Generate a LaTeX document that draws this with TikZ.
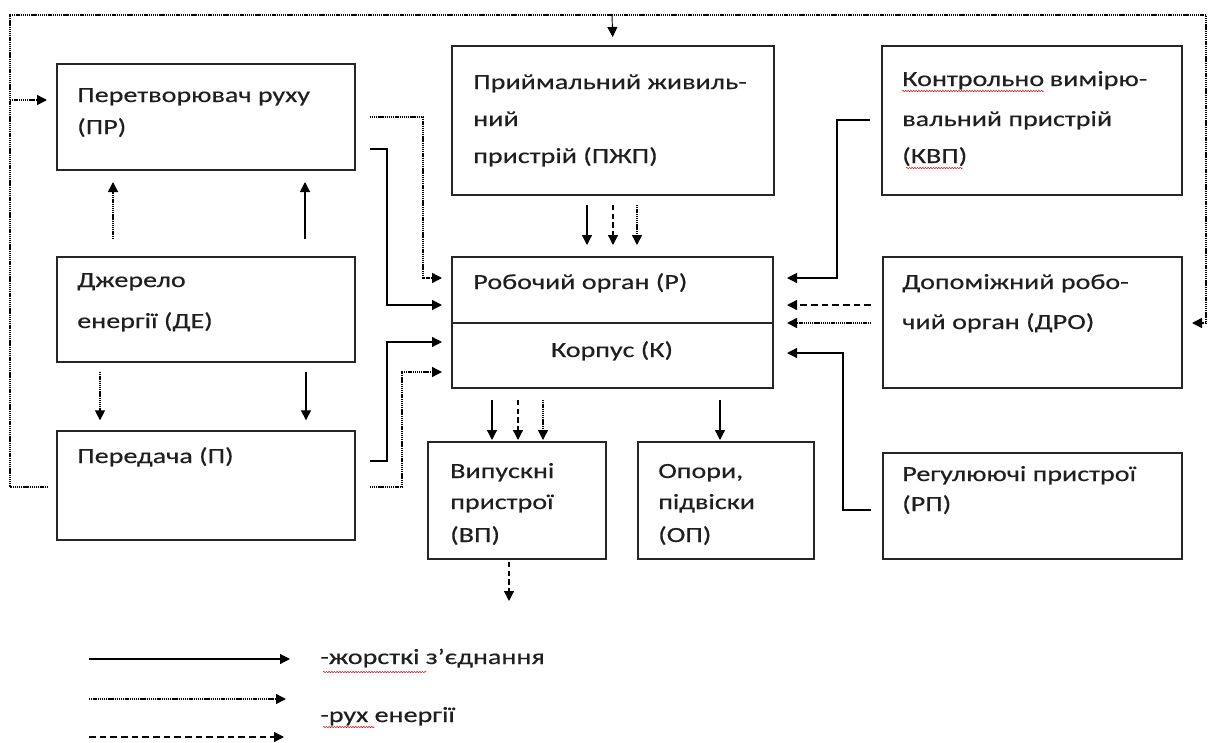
\documentclass[tikz,border=0pt]{standalone}
\usepackage{fontspec}
\setmainfont{Carlito}[FakeStretch=1.3,FakeBold=0.4]
\usetikzlibrary{arrows.meta,calc,decorations.pathmorphing}
\begin{document}
\begin{tikzpicture}[x=0.75pt,y=-0.75pt,
  box/.style={draw=black!85,line width=0.8pt,anchor=north west,inner sep=0pt,outer sep=0pt},
  txt/.style={anchor=base west,inner sep=0pt,font=\fontsize{16.2}{19}\selectfont,text=black!88},
  tip/.style={-{Triangle[length=7.5pt,width=7.5pt]}},
  sol/.style={line width=0.9pt,black,tip},
  dotl/.style={line width=1.1pt,black,dash pattern=on 1pt off 0.6pt},
  dotarr/.style={dotl,tip},
  dasharr/.style={line width=0.9pt,black,dash pattern=on 5pt off 3pt,tip},
  wavy/.style={red!80!black,line width=0.35pt,decorate,decoration={snake,amplitude=0.5pt,segment length=2pt}}
]
\useasboundingbox (0,0) rectangle (1208,743);
% boxes
\node[box,minimum width=223.5pt,minimum height=79.5pt] (pr) at (57,64) {};
\node[box,minimum width=223.5pt,minimum height=78.75pt] (de) at (57,257) {};
\node[box,minimum width=223.5pt,minimum height=81.75pt] (pp) at (57,431) {};
\node[box,minimum width=241.5pt,minimum height=111.75pt] (pzhp) at (452,46) {};
\node[box,minimum width=225pt,minimum height=111.75pt] (kvp) at (882,46) {};
\node[box,minimum width=240.75pt,minimum height=49.5pt] (r) at (452,257) {};
\node[box,minimum width=240.75pt,minimum height=48.75pt] (k) at (452,323) {};
\node[box,minimum width=224.25pt,minimum height=98.25pt] (dro) at (883,257) {};
\node[box,minimum width=133.5pt,minimum height=87.75pt] (vp) at (428,442) {};
\node[box,minimum width=132pt,minimum height=87.75pt] (op) at (638,442) {};
\node[box,minimum width=224.25pt,minimum height=79.5pt] (rp) at (883,453) {};
% texts
\node[txt] (prt1) at (77,102) {Перетворювач руху};
\node[txt] (prt2) at (77,134) {(ПР)};
\node[txt] (det1) at (77,287) {Джерело};
\node[txt] (det2) at (77,328) {енергії (ДЕ)};
\node[txt] (ppt1) at (77,463) {Передача (П)};
\node[txt] (pzt1) at (473,89) {Приймальний живиль-};
\node[txt] (pzt2) at (473,126) {ний};
\node[txt] (pzt3) at (473,163) {пристрій (ПЖП)};
\node[txt] (kvw) at (902,86) {Контрольно};
\node[txt] (kvt1) at ($(kvw.base east)+(5,0)$) {вимірю-};
\node[txt] (kvt2) at (902,126) {вальний пристрій};
\node[txt] (kvt3) at (902,163) {(КВП)};
\node[txt] (rt) at (473,289) {Робочий орган (Р)};
\node[txt,anchor=base] (kt) at (612,357) {Корпус (К)};
\node[txt] (drt1) at (902,289) {Допоміжний робо-};
\node[txt] (drt2) at (902,329) {чий орган (ДРО)};
\node[txt] (vpt1) at (450,478) {Випускні};
\node[txt] (vpt2) at (450,509) {пристрої};
\node[txt] (vpt3) at (450,542) {(ВП)};
\node[txt] (opt1) at (658,478) {Опори,};
\node[txt] (opt2) at (658,509) {підвіски};
\node[txt] (opt3) at (658,542) {(ОП)};
\node[txt] (rpt1) at (902,481) {Регулюючі пристрої};
\node[txt] (rpt2) at (902,511) {(РП)};
\node[txt] (lg1) at (320,664) {-жорсткі з’єднання};
\node[txt] (lg2) at (320,722) {-рух енергії};
% spell-check underlines
\draw[wavy] ($(kvw.base west)+(0,5)$) -- ($(kvw.base east)+(0,5)$);
\draw[wavy] ($(kvt3.base west)+(4,5)$) -- ($(kvt3.base east)+(-4,5)$);
\draw[wavy] (323,672) -- (427,672);
\draw[wavy] (323,727) -- (375,727);
% energy loop
\draw[dotarr,shorten <=6.75pt,shorten >=7.5pt] (pp.west |- 0,487) -| (10,15) -| (1206,323) -- (dro.east |- 0,323);
\draw[dotarr,shorten >=7.5pt] (10,100) -- (pr.west |- 0,100);
\draw[sol,line width=0.7pt,shorten >=6.75pt] (612,15) -- (pzhp.north);
% DE -> PR, DE -> P
\draw[dotarr,shorten <=13.5pt,shorten >=9pt] (de.north -| 113,0) -- (pr.south -| 113,0);
\draw[sol,shorten <=13.5pt,shorten >=9pt] (de.north -| 305,0) -- (pr.south -| 305,0);
\draw[dotarr,shorten <=7.5pt,shorten >=8pt] (de.south -| 100,0) -- (pp.north -| 100,0);
\draw[sol,shorten <=7.5pt,shorten >=8pt] (de.south -| 306,0) -- (pp.north -| 306,0);
% PR -> R
\draw[dotarr,shorten <=11pt,shorten >=7.5pt] (pr.east |- 0,117) -| (423,278) -- (r.west |- 0,278);
\draw[sol,shorten <=11pt,shorten >=7.5pt] (pr.east |- 0,149) -| (387,305) -- (r.west |- 0,305);
% P -> K
\draw[sol,shorten <=11pt,shorten >=7.5pt] (pp.east |- 0,461) -| (387,342) -- (k.west |- 0,342);
\draw[dotarr,shorten <=11pt,shorten >=7.5pt] (pp.east |- 0,487) -| (402,372) -- (k.west |- 0,372);
% PZhP -> R
\draw[sol,shorten <=7.5pt,shorten >=9pt] (pzhp.south -| 587,0) -- (r.north -| 587,0);
\draw[dasharr,dash pattern=on 4pt off 2.5pt,shorten <=7.5pt,shorten >=9pt] (pzhp.south -| 613,0) -- (r.north -| 613,0);
\draw[dotarr,shorten <=7.5pt,shorten >=9pt] (pzhp.south -| 637,0) -- (r.north -| 637,0);
% KVP, DRO, RP -> R/K
\draw[sol,shorten <=9pt,shorten >=10.5pt] (kvp.west |- 0,120) -| (837,278) -- (r.east |- 0,278);
\draw[dasharr,shorten <=9pt,shorten >=10.5pt] (dro.west |- 0,305) -- (r.east |- 0,305);
\draw[dotarr,shorten <=9pt,shorten >=10.5pt] (dro.west |- 0,323) -- (r.south east);
\draw[sol,shorten <=9pt,shorten >=10.5pt] (rp.west |- 0,510) -| (843,353) -- (k.east |- 0,353);
% K -> VP, OP
\draw[sol,shorten <=9pt,shorten >=1.5pt] (k.south -| 492,0) -- (vp.north -| 492,0);
\draw[dasharr,dash pattern=on 4pt off 2.5pt,shorten <=9pt,shorten >=1.5pt] (k.south -| 518,0) -- (vp.north -| 518,0);
\draw[dotarr,shorten <=9pt,shorten >=1.5pt] (k.south -| 543,0) -- (vp.north -| 543,0);
\draw[sol,shorten <=9pt,shorten >=1.5pt] (k.south -| 720,0) -- (op.north -| 720,0);
% VP out
\coordinate (vpout) at (509,601);
\draw[dasharr,dash pattern=on 4pt off 2.5pt,shorten <=2.25pt] (vp.south -| vpout) -- (vpout);
% legend
\coordinate (l1a) at (89,659); \coordinate (l1b) at (290,659);
\coordinate (l2a) at (89,699); \coordinate (l2b) at (286,699);
\coordinate (l3a) at (89,737); \coordinate (l3b) at (284,737);
\draw[sol] (l1a) -- (l1b);
\draw[dotarr] (l2a) -- (l2b);
\draw[dasharr] (l3a) -- (l3b);
\end{tikzpicture}
\end{document}
